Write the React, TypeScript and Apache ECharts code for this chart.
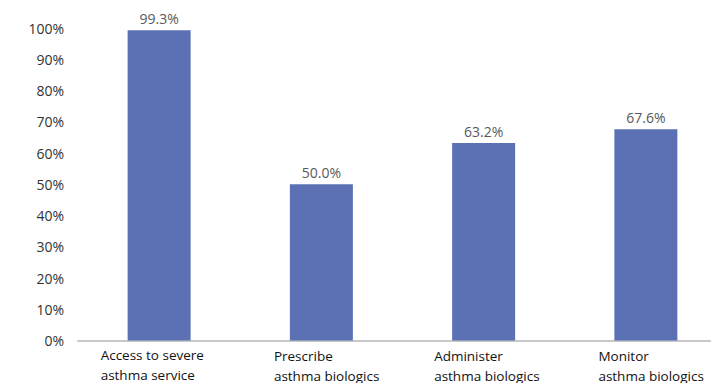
import React, { useEffect, useRef } from "react";
import * as echarts from "echarts";

const categories = [
  "Access to severe\nasthma service",
  "Prescribe\nasthma biologics",
  "Administer\nasthma biologics",
  "Monitor\nasthma biologics",
];
const values = [99.3, 50.0, 63.2, 67.6];
const labelStyles = ["a", "b", "c", "b"];

export default function App() {
  const ref = useRef<HTMLDivElement>(null);
  useEffect(() => {
    document.body.style.margin = "0";
    const chart = echarts.init(ref.current!, null, { renderer: "svg" });
    const font = "'Open Sans', 'Noto Sans', sans-serif";
    chart.setOption({
      animation: false,
      grid: { left: 78, right: 0, top: 28, bottom: 42 },
      xAxis: {
        type: "category",
        data: categories,
        axisLine: { lineStyle: { color: "#c8c8c8", width: 2 } },
        axisTick: { show: false },
        axisLabel: {
          interval: 0,
          margin: 4,
          formatter: (v: string, i: number) => {
            const s = labelStyles[i];
            return v
              .split("\n")
              .map((l) => `{${s}|${l}}`)
              .join("\n");
          },
          rich: {
            a: { width: 117, align: "left", fontSize: 13.5, lineHeight: 20, color: "#111", fontFamily: font },
            b: { width: 95, align: "left", fontSize: 13.5, lineHeight: 20, color: "#111", fontFamily: font, padding: [3, 0, 0, 0] },
            c: { width: 99, align: "left", fontSize: 13.5, lineHeight: 20, color: "#111", fontFamily: font, padding: [3, 0, 0, 0] },
          },
        },
      },
      yAxis: {
        type: "value",
        min: 0,
        max: 100,
        interval: 10,
        splitLine: { show: false },
        axisLine: { show: false },
        axisTick: { show: false },
        axisLabel: {
          formatter: "{value}%",
          margin: 14,
          fontSize: 14,
          color: "#333",
          fontFamily: font,
        },
      },
      series: [
        {
          type: "bar",
          data: values,
          barWidth: 63,
          itemStyle: { color: "#5b71b4" },
          label: {
            show: true,
            position: "top",
            distance: 5,
            formatter: (p: any) => p.value.toFixed(1) + "%",
            fontSize: 14,
            color: "#595959",
            fontFamily: font,
          },
        },
      ],
    });
    return () => chart.dispose();
  }, []);
  return (
    <div style={{ width: 711, height: 383, overflow: "hidden", position: "relative" }}>
      <div ref={ref} style={{ width: 727, height: 383 }} />
    </div>
  );
}
